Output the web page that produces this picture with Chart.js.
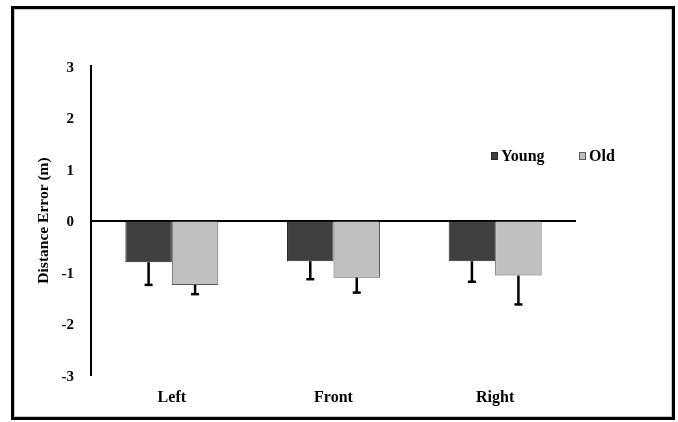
<!DOCTYPE html>
<html>
<head>
<meta charset="utf-8">
<script src="https://cdn.jsdelivr.net/npm/chart.js@4"></script>
<style>
  body { margin: 0; background: #fff; }
  canvas { display: block; }
</style>
</head>
<body>
<canvas id="myChart" width="678" height="422"></canvas>
<script>
const categories = ['Left', 'Front', 'Right'];
const youngMeans = [-0.81, -0.79, -0.79];
const oldMeans = [-1.25, -1.11, -1.07];
const youngErrors = [0.44, 0.35, 0.40];
const oldErrors = [0.18, 0.29, 0.56];
const yTicks = [-3, -2, -1, 0, 1, 2, 3];

const serif = "'Liberation Serif', 'Times New Roman', serif";

const errorBars = {
  id: 'errorBars',
  afterDatasetsDraw(chart) {
    const ctx = chart.ctx;
    const yScale = chart.scales.y;
    ctx.save();
    ctx.strokeStyle = '#000';
    chart.data.datasets.forEach((ds, i) => {
      const meta = chart.getDatasetMeta(i);
      meta.data.forEach((bar, j) => {
        const v = ds.data[j];
        const e = ds.errors[j];
        const yEnd = yScale.getPixelForValue(v - e);
        ctx.lineWidth = 2.5;
        ctx.beginPath();
        ctx.moveTo(bar.x, bar.y);
        ctx.lineTo(bar.x, yEnd);
        ctx.stroke();
        ctx.beginPath();
        ctx.moveTo(bar.x - 4, yEnd);
        ctx.lineTo(bar.x + 4, yEnd);
        ctx.stroke();
      });
    });
    ctx.restore();
  }
};

const legendAndFrame = {
  id: 'legendAndFrame',
  afterDraw(chart) {
    const ctx = chart.ctx;
    const area = chart.chartArea;
    ctx.save();
    // legend
    const y = area.top + 90;
    let x = area.right - 85;
    ctx.font = 'bold 16px ' + serif;
    ctx.textBaseline = 'middle';
    ctx.textAlign = 'left';
    chart.data.datasets.forEach((ds, i) => {
      ctx.fillStyle = ds.backgroundColor;
      ctx.fillRect(x, y - 4, 7, 8);
      ctx.strokeStyle = ds.borderColor;
      ctx.lineWidth = 1;
      ctx.strokeRect(x + 0.5, y - 3.5, 6, 7);
      ctx.fillStyle = '#000';
      ctx.fillText(ds.label, x + 10, y + 1);
      x += 88;
    });
    // outer frame
    ctx.strokeStyle = '#c8c8c8';
    ctx.lineWidth = 1;
    ctx.strokeRect(14.5, 9.5, 657, 407);
    ctx.strokeStyle = '#000';
    ctx.lineWidth = 3;
    ctx.strokeRect(12.5, 7.5, 661, 411);
    ctx.restore();
  }
};

new Chart(document.getElementById('myChart'), {
  type: 'bar',
  data: {
    labels: categories,
    datasets: [{
      label: 'Young',
      data: youngMeans,
      errors: youngErrors,
      backgroundColor: '#404040',
      borderColor: '#262626',
      borderWidth: 1
    }, {
      label: 'Old',
      data: oldMeans,
      errors: oldErrors,
      backgroundColor: '#c0c0c0',
      borderColor: '#5a5a5a',
      borderWidth: 1
    }]
  },
  options: {
    responsive: false,
    animation: false,
    layout: { padding: { left: 0, right: 102, top: 66, bottom: 0 } },
    datasets: { bar: { barPercentage: 1, categoryPercentage: 0.575 } },
    plugins: { legend: { display: false }, tooltip: { enabled: false } },
    scales: {
      x: {
        grid: { display: false },
        border: { display: false },
        ticks: { color: '#000', padding: 5, font: { family: serif, size: 16, weight: 'bold' } },
        afterFit: (scale) => { scale.height = 47; }
      },
      y: {
        min: yTicks[0],
        max: yTicks[yTicks.length - 1],
        afterBuildTicks: (scale) => { scale.ticks = yTicks.map(v => ({ value: v })); },
        ticks: { color: '#000', padding: 17, labelOffset: 2, font: { family: serif, size: 15, weight: 'bold' } },
        grid: {
          drawTicks: false,
          lineWidth: 2,
          color: (c) => (c.tick && c.tick.value === 0 ? '#000' : 'rgba(0,0,0,0)')
        },
        border: { display: true, color: '#000', width: 2 },
        title: {
          display: true,
          text: 'Distance Error (m)',
          color: '#000',
          padding: { top: 35, bottom: 0 },
          font: { family: serif, size: 15.5, weight: 'bold' }
        },
        afterFit: (scale) => { scale.width = 91; }
      }
    }
  },
  plugins: [errorBars, legendAndFrame]
});
</script>
</body>
</html>
